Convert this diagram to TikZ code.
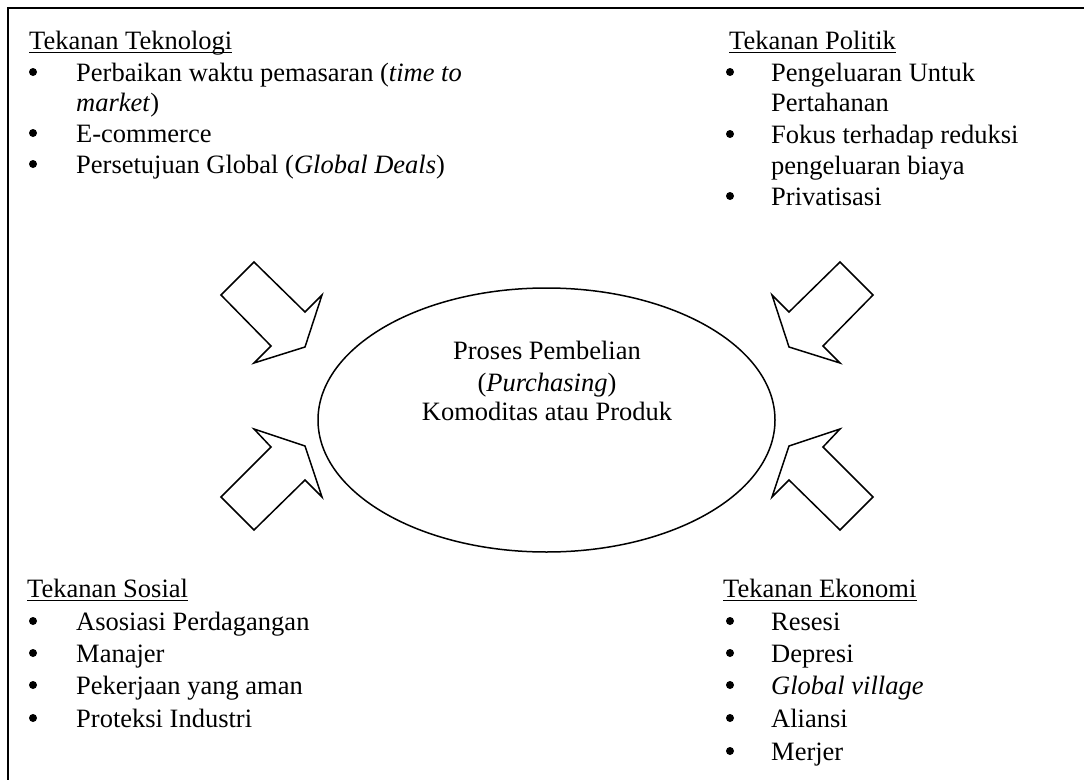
\documentclass[tikz,border=0pt]{standalone}
\usepackage{fontspec}
\setmainfont{Liberation Serif}
\usetikzlibrary{shapes.geometric}
\begin{document}
\begin{tikzpicture}[x=1pt,y=-1pt,
  txt/.style={inner sep=0pt, anchor=base west, font=\fontsize{26.5}{31}\selectfont},
  bul/.style={circle, fill=black, inner sep=0pt, minimum size=8pt, yshift=9pt},
  arrowshape/.style={draw=black, line width=1.5pt, line join=miter, fill=white},
  uline/.style={line width=1.3pt}]
\useasboundingbox (0,0) rectangle (1084,779);
\begin{scope}
\clip (0,0) rectangle (1084,779);
\draw[line width=2pt] (8,8) rectangle (1100,800);
\end{scope}

% ellipse
\node[draw, line width=1.5pt, ellipse, minimum width=457pt, minimum height=264pt, inner sep=0pt] (proc) at (546.5,420) {};
\node[txt, anchor=base] (p1) at (547,359) {Proses Pembelian};
\node[txt, anchor=base] (p2) at (547,391) {(\textit{Purchasing})};
\node[txt, anchor=base] (p3) at (547,420) {Komoditas atau Produk};

% arrows
\draw[arrowshape] (254,262) -- (221,295) -- (271,346) -- (254,363) -- (305,347) -- (322,295) -- (305,312) -- cycle;
\draw[arrowshape] (221,497) -- (271,447) -- (254,429) -- (305,446) -- (322,497) -- (305,480) -- (254,530) -- cycle;
\draw[arrowshape] (840,262) -- (873,295) -- (823,346) -- (840,363) -- (789,347) -- (772,295) -- (789,312) -- cycle;
\draw[arrowshape] (873,497) -- (823,447) -- (840,429) -- (789,446) -- (772,497) -- (789,480) -- (840,530) -- cycle;

% Tekanan Teknologi
\node[txt] (tt) at (29,49) {Tekanan Teknologi};
\draw[uline] ([yshift=-3.5pt]tt.base west) -- ([yshift=-3.5pt]tt.base east);
\node[bul] (tb1) at (33,81) {};
\node[txt] (ti1) at (76,81) {Perbaikan waktu pemasaran (\textit{time to}};
\node[txt] (ti1b) at (76,111) {\textit{market})};
\node[bul] (tb2) at (33,142) {};
\node[txt] (ti2) at (76,142) {E-commerce};
\node[bul] (tb3) at (33,173) {};
\node[txt] (ti3) at (76,173) {Persetujuan Global (\textit{Global Deals})};

% Tekanan Politik
\node[txt] (pt) at (729,49) {Tekanan Politik};
\draw[uline] ([yshift=-3.5pt]pt.base west) -- ([yshift=-3.5pt]pt.base east);
\node[bul] (pb1) at (730,81) {};
\node[txt] (pi1) at (771,81) {Pengeluaran Untuk};
\node[txt] (pi1b) at (771,111) {Pertahanan};
\node[bul] (pb2) at (730,143) {};
\node[txt] (pi2) at (771,143) {Fokus terhadap reduksi};
\node[txt] (pi2b) at (771,174) {pengeluaran biaya};
\node[bul] (pb3) at (730,205) {};
\node[txt] (pi3) at (771,205) {Privatisasi};

% Tekanan Sosial
\node[txt] (st) at (27,597) {Tekanan Sosial};
\draw[uline] ([yshift=-3.5pt]st.base west) -- ([yshift=-3.5pt]st.base east);
\node[bul] (sb1) at (33,630) {};
\node[txt] (si1) at (76,630) {Asosiasi Perdagangan};
\node[bul] (sb2) at (33,662) {};
\node[txt] (si2) at (76,662) {Manajer};
\node[bul] (sb3) at (33,694) {};
\node[txt] (si3) at (76,694) {Pekerjaan yang aman};
\node[bul] (sb4) at (33,727) {};
\node[txt] (si4) at (76,727) {Proteksi Industri};

% Tekanan Ekonomi
\node[txt] (et) at (723,597) {Tekanan Ekonomi};
\draw[uline] ([yshift=-3.5pt]et.base west) -- ([yshift=-3.5pt]et.base east);
\node[bul] (eb1) at (730,630) {};
\node[txt] (ei1) at (771,630) {Resesi};
\node[bul] (eb2) at (730,662) {};
\node[txt] (ei2) at (771,662) {Depresi};
\node[bul] (eb3) at (730,694) {};
\node[txt] (ei3) at (771,694) {\textit{Global village}};
\node[bul] (eb4) at (730,727) {};
\node[txt] (ei4) at (771,727) {Aliansi};
\node[bul] (eb5) at (730,760) {};
\node[txt] (ei5) at (771,760) {Merjer};
\end{tikzpicture}
\end{document}
